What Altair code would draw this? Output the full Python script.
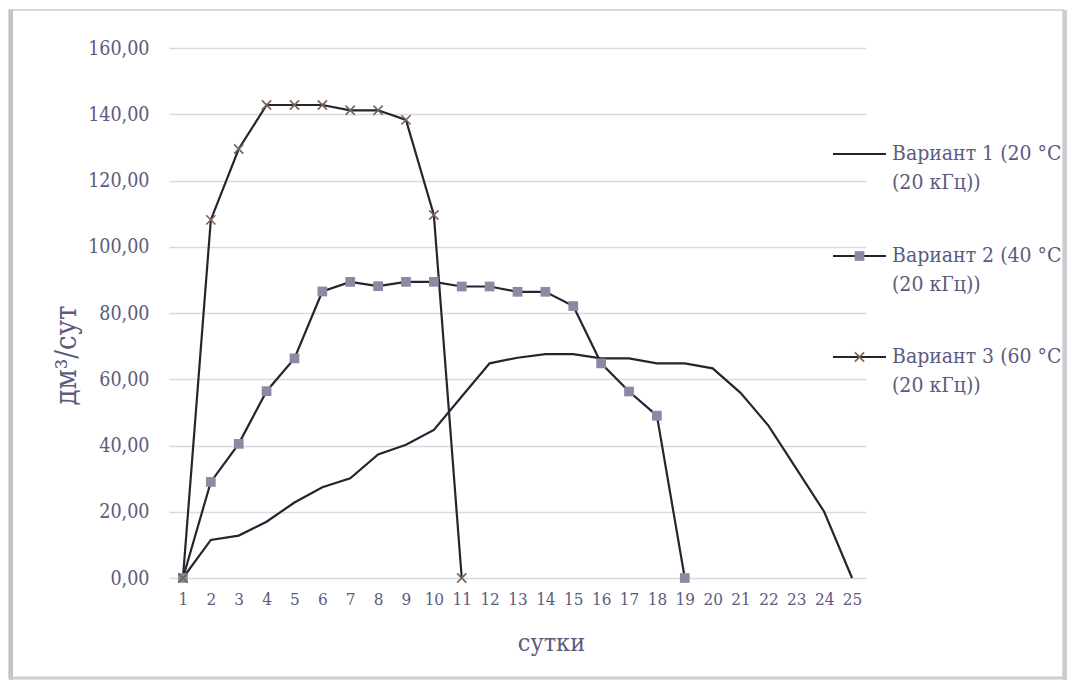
import altair as alt
import pandas as pd

# ---- data ----
days = list(range(1, 26))
names = ["Вариант 1 (20 °C", "Вариант 2 (40 °C", "Вариант 3 (60 °C"]
label_line2 = "(20 кГц))"

v1 = [0, 11.5, 12.8, 17.0, 22.8, 27.4, 30.1, 37.3, 40.2, 44.7, 54.8, 64.8,
      66.5, 67.6, 67.6, 66.3, 66.3, 64.8, 64.8, 63.3, 55.9, 46.0, 33.0, 20.0, 0]
v2 = [0, 29.0, 40.5, 56.4, 66.3, 86.5, 89.4, 88.1, 89.4, 89.4, 88.0, 88.0,
      86.4, 86.4, 82.1, 64.8, 56.3, 49.0, 0]
v3 = [0, 108.1, 129.5, 142.8, 142.8, 142.8, 141.2, 141.2, 138.3, 109.6, 0]

y_ticks = [0, 20, 40, 60, 80, 100, 120, 140, 160]

FONT = "DejaVu Serif Condensed, DejaVu Serif"
TXT = "#5b5b7e"
LINE = "#25252f"
SQ = "#8a8aa5"
XC = "#7a6354"
GRID = "#d9d9e2"

rows = []
for s, vals in zip(names, [v1, v2, v3]):
    for d, v in zip(days, vals):
        rows.append({"series": s, "day": d, "value": v})
df = pd.DataFrame(rows)

L, T = 169, 48          # plot-area offset inside the page
W, H = 697, 530

xenc = alt.X("day:O", scale=alt.Scale(type="point", domain=days, padding=0.5),
             axis=alt.Axis(grid=False, ticks=False, domain=False, labelAngle=0,
                           labelOverlap=False,
                           labelFontSize=17, labelPadding=13, labelColor=TXT, labelFont=FONT,
                           title="сутки", titleFont=FONT, titleFontSize=25, titleColor=TXT,
                           titleFontWeight="normal", titleX=382, titleY=64,
                           titleBaseline="middle", titleAlign="center"))
yenc = alt.Y("value:Q", scale=alt.Scale(domain=[0, 160], nice=False),
             axis=alt.Axis(values=y_ticks, grid=True, gridColor=GRID, gridWidth=1.4,
                           ticks=False, domain=False, labelOverlap=False,
                           labelExpr="replace(format(datum.value, '.2f'), '.', ',')",
                           labelFontSize=19.5, labelPadding=20, labelColor=TXT, labelFont=FONT,
                           title="дм³/сут", titleFont=FONT, titleFontSize=29, titleColor=TXT,
                           titleFontWeight="normal", titleX=-103, titleY=307,
                           titleBaseline="middle", titleAlign="center"))

base = alt.Chart(df).encode(x=xenc, y=yenc)

lines = base.mark_line(color=LINE, strokeWidth=2.2).encode(detail="series:N")

sq = base.transform_filter(alt.datum.series == names[1]).mark_point(
    shape="square", filled=True, size=95, color=SQ, opacity=1)

XPATH = "M-1,-1L1,1M-1,1L1,-1"
xs = base.transform_filter(alt.datum.series == names[2]).mark_point(
    shape=XPATH, filled=False, size=85, color=XC, strokeWidth=1.6, opacity=1)

one = pd.DataFrame({"k": [0]})

# legend
leg_layers = []
ys = [154, 256, 357]
for i, (nm, yy) in enumerate(zip(names, ys)):
    leg_layers.append(alt.Chart(one).mark_rule(color=LINE, strokeWidth=2.2).encode(
        x=alt.value(833 - L), x2=alt.value(886 - L), y=alt.value(yy - T)))
    if i == 1:
        leg_layers.append(alt.Chart(one).mark_point(shape="square", filled=True, size=95,
                                                    color=SQ, opacity=1).encode(
            x=alt.value(859.5 - L), y=alt.value(yy - T)))
    if i == 2:
        leg_layers.append(alt.Chart(one).mark_point(shape=XPATH, filled=False, size=85,
                                                    color=XC, strokeWidth=1.6, opacity=1).encode(
            x=alt.value(859.5 - L), y=alt.value(yy - T)))
    leg_layers.append(alt.Chart(one).mark_text(text=nm, font=FONT, fontSize=21, color=TXT,
                                               align="left", baseline="middle").encode(
        x=alt.value(892 - L), y=alt.value(yy - T)))
    leg_layers.append(alt.Chart(one).mark_text(text=label_line2, font=FONT, fontSize=21,
                                               color=TXT, align="left", baseline="middle").encode(
        x=alt.value(892 - L), y=alt.value(yy + 29 - T)))

# frame around the chart
frame = alt.Chart(one).mark_rect(fill=None, stroke="#d8d8e0", strokeWidth=2).encode(
    x=alt.value(9 - L), x2=alt.value(1063 - L), y=alt.value(10 - T), y2=alt.value(678 - T))
left_sh = alt.Chart(one).mark_rule(color="#c4c4c8", strokeWidth=4).encode(
    x=alt.value(11 - L), y=alt.value(10 - T), y2=alt.value(680 - T))
right_sh = alt.Chart(one).mark_rule(color="#cdcdd2", strokeWidth=4).encode(
    x=alt.value(1065 - L), y=alt.value(10 - T), y2=alt.value(680 - T))
bot_sh = alt.Chart(one).mark_rule(color="#cdcdd2", strokeWidth=3).encode(
    x=alt.value(9 - L), x2=alt.value(1066 - L), y=alt.value(678 - T))

chart = alt.layer(lines, sq, xs, *leg_layers, frame, left_sh, right_sh, bot_sh).properties(
    width=W, height=H,
    autosize=alt.AutoSizeParams(type="none"),
    padding={"left": L, "top": T, "right": 1068 - L - W, "bottom": 684 - T - H},
    background="white",
).configure_view(stroke=None)

chart.save("out.html", embed_options={"renderer": "svg", "actions": False})
